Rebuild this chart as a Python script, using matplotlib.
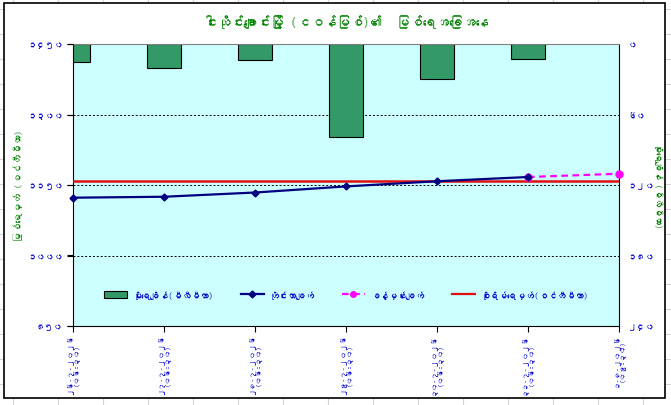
import matplotlib
matplotlib.use("Agg")
import matplotlib.pyplot as plt
from matplotlib import font_manager
from matplotlib.ft2font import FT2Font
from matplotlib.lines import Line2D
from matplotlib.patches import Patch, Rectangle
from matplotlib.transforms import offset_copy

# --- data ---
dates = ["၂၆-၇-၂၀၂၆", "၂၇-၇-၂၀၂၆", "၂၈-၇-၂၀၂၆", "၂၉-၇-၂၀၂၆",
         "၃၀-၇-၂၀၂၆", "၃၁-၇-၂၀၂၆", "၁-၈-၂၀၂၆"]
times = ["(၀၆:၃၀)", "(၀၆:၃၀)", "(၀၆:၃၀)", "(၀၆:၃၀)",
         "(၀၆:၃၀)", "(၀၆:၃၀)", "(၀၉:၃၀)"]
rain = [15, 20, 14, 79, 30, 13]                 # mm, right axis (inverted)
measured = [1123, 1125, 1134, 1147, 1158, 1167]  # cm
forecast = [1167, 1174]                          # cm, last two dates
danger = 1158                                    # cm

level_ticks = [850, 1000, 1150, 1300, 1450]
level_labels = ["၈၅၀", "၁၀၀၀", "၁၁၅၀", "၁၃၀၀", "၁၄၅၀"]
rain_ticks = [0, 60, 120, 180, 240]
rain_labels = ["၀", "၆၀", "၁၂၀", "၁၈၀", "၂၄၀"]

title = "ငါးသိုင်းချောင်းမြို့ (ငဝန်မြစ်)၏  မြစ်ရေအခြေအနေ"
left_label = "မြစ်ရေမှတ် (စင်တီမီတာ)"
right_label = "မိုးရေချိန် (မီလီမီတာ)"
legend_labels = ["မိုးရေချိန်(မီလီမီတာ)", "တိုင်းတာချက်",
                 "ခန့်မှန်းချက်", "စိုးရိမ်ရေမှတ်(စင်တီမီတာ)"]


def find_font(ch):
    for f in font_manager.fontManager.ttflist:
        try:
            if ord(ch) in FT2Font(f.fname).get_charmap():
                return f.name
        except Exception:
            pass
    return None


myan = find_font("မ")
fams = [myan, "DejaVu Sans"] if myan else ["DejaVu Sans"]
plt.rcParams["font.family"] = fams

BLUE = "#0000CC"
GREEN = "#008000"

W, H = 671, 406
fig = plt.figure(figsize=(W / 100, H / 100), dpi=100)

# spreadsheet cell lines behind the chart
for x in range(13, W, 45):
    fig.add_artist(Line2D([x / W, x / W], [0, 1], color="#d4d4d4", lw=0.8, zorder=-3))
for y in range(10, H, 25):
    fig.add_artist(Line2D([0, 1], [1 - y / H, 1 - y / H], color="#d4d4d4", lw=0.8, zorder=-3))
fig.add_artist(Rectangle((4 / W, 1 - 399 / H), 661 / W, 395 / H, facecolor="white",
                         edgecolor="black", lw=1.2, zorder=-1))

ax = fig.add_axes([73 / W, 1 - 327 / H, 546 / W, 282 / H])
ax.set_facecolor("#CCFFFF")
x = list(range(len(dates)))

# rain bars on the right axis (inverted)
ax.bar(x[:len(rain)], rain, width=0.37, color="#339966",
       edgecolor="black", lw=0.8, zorder=2)
ax.set_ylim(240, 0)
ax.set_xlim(0, len(dates) - 1)
ax.set_yticks(rain_ticks)
ax.set_yticklabels([])
ax.tick_params(axis="y", left=False, labelleft=False, right=True, labelright=False,
               colors="black", length=4)
rtrans = offset_copy(ax.get_yaxis_transform(), fig=fig, x=6, y=0, units="points")
for v, lab in zip(rain_ticks, rain_labels):
    ax.text(1.0, v, lab, transform=rtrans, ha="left", va="center", color=BLUE,
            fontsize=6.5, fontweight="bold")
ax.yaxis.grid(True, color="black", ls=(0, (2, 2)), lw=0.7, zorder=1)
ax.set_axisbelow(True)
for s in ["left", "right", "bottom"]:
    ax.spines[s].set_color("black")
ax.spines["top"].set_color("#808080")
ax.set_xticks(x)
ax.set_xticklabels([d + "\n" + t for d, t in zip(dates, times)], rotation=90,
                   ha="center", va="top", multialignment="center")
ax.tick_params(axis="x", colors="black", labelcolor=BLUE, labelsize=5.5, length=4, pad=1)
for t in ax.get_xticklabels():
    t.set_fontweight("bold")
    t.set_linespacing(1.0)

# water level on the left axis
ax2 = ax.twinx()
ax2.set_ylim(level_ticks[0], level_ticks[-1])
ax2.set_yticks(level_ticks)
ax2.set_yticklabels(level_labels)
ax2.tick_params(axis="y", left=True, labelleft=True, right=False, labelright=False,
                colors="black", labelcolor=BLUE, labelsize=6.5, length=4, pad=3)
for t in ax2.get_yticklabels():
    t.set_fontweight("bold")
for s in ax2.spines.values():
    s.set_visible(False)

ax2.axhline(danger, color="#E01010", lw=1.8, zorder=3)
n = len(measured)
ax2.plot(x[n - 1:], forecast, color="#FF00FF", ls=(0, (3, 2)), lw=1.6,
         marker="o", ms=5, zorder=4, clip_on=False)
ax2.plot(x[:n], measured, color="#000080", lw=1.6, marker="D", ms=3.5,
         zorder=5, clip_on=False)

fig.text(18 / W, 1 - 186 / H, left_label, color=GREEN, fontsize=7,
         fontweight="bold", rotation=90, ha="center", va="center")
fig.text(659 / W, 1 - 186 / H, right_label, color=GREEN, fontsize=6.5,
         fontweight="bold", rotation=270, ha="center", va="center")

fig.text((73 + 619) / 2 / W, 1 - 22 / H, title, color=GREEN, fontsize=9.5,
         fontweight="bold", ha="center", va="center")

handles = [Patch(facecolor="#339966", edgecolor="black", lw=0.8),
           Line2D([], [], color="#000080", lw=1.6, marker="D", ms=3.5),
           Line2D([], [], color="#FF00FF", lw=1.6, ls=(0, (3, 2)), marker="o", ms=4),
           Line2D([], [], color="#E01010", lw=1.6)]
leg = ax2.legend(handles, legend_labels, loc="center", bbox_to_anchor=(0.5, 0.113),
                 ncol=4, frameon=False, fontsize=6.5, handlelength=2.6,
                 columnspacing=3.0, handletextpad=0.6)
for t in leg.get_texts():
    t.set_color(BLUE)
    t.set_fontweight("bold")

fig.savefig("out.png", dpi=100)
